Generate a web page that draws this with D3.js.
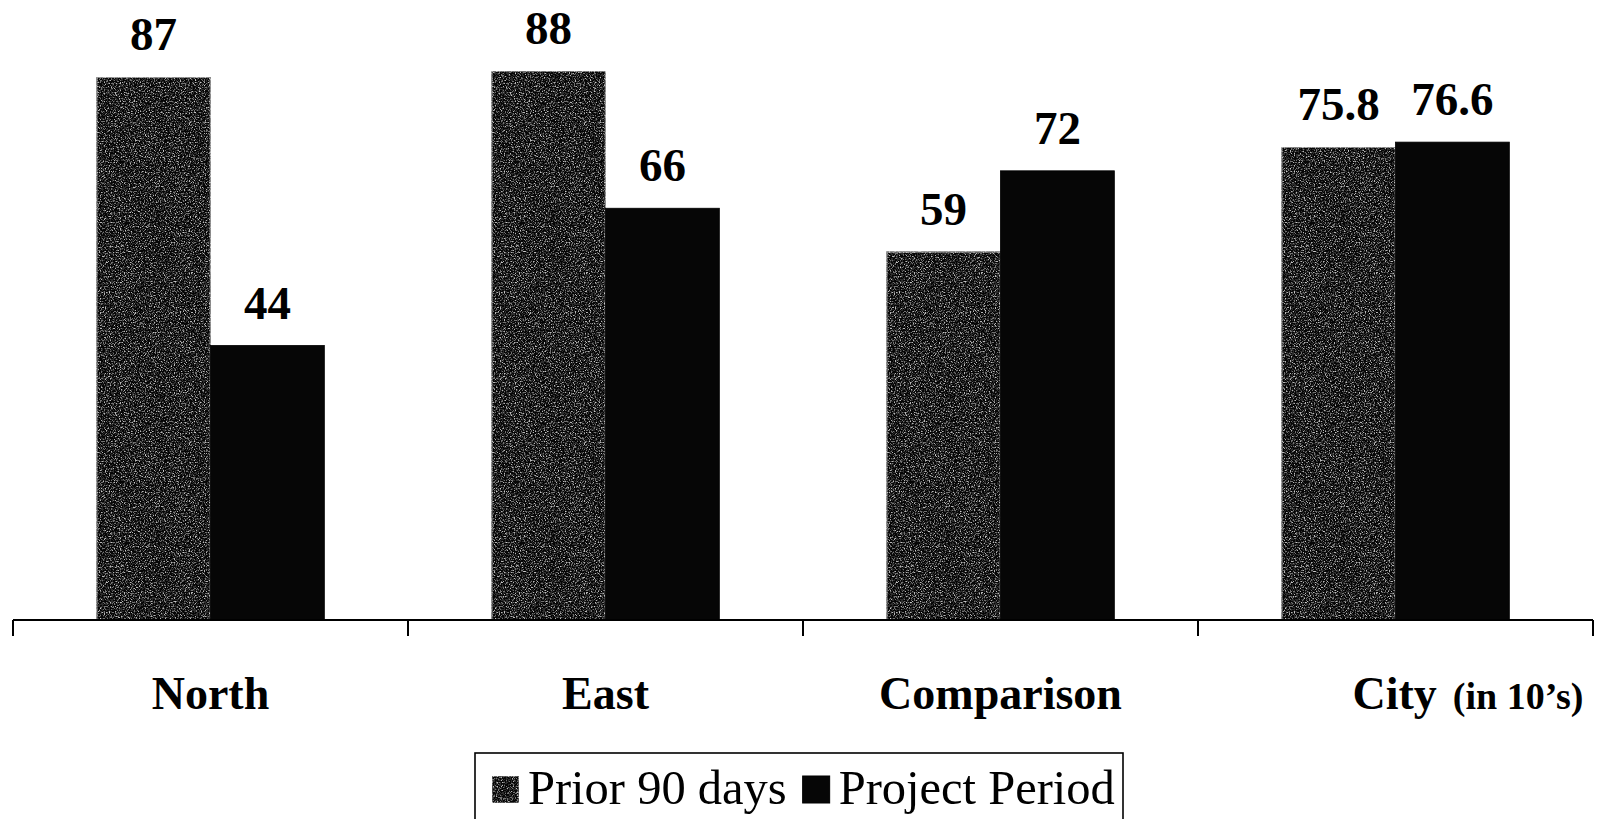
<!DOCTYPE html>
<html>
<head>
<meta charset="utf-8">
<script src="https://cdn.jsdelivr.net/npm/d3@7"></script>
<style>
  html, body { margin: 0; padding: 0; background: #fff; }
  svg { display: block; }
</style>
</head>
<body>
<svg id="chart" width="1603" height="819" font-family="'Liberation Serif', 'Times New Roman', Tinos, 'DejaVu Serif', serif"></svg>
<script>
// Categories and the two periods being compared
const categories = ["North", "East", "Comparison", "City"];
const seriesNames = ["Prior 90 days", "Project Period"];
const priorValues = [87, 88, 59, 75.8];
const projectValues = [44, 66, 72, 76.6];
const categoryNotes = { City: "(in 10\u2019s)" };

const svg = d3.select("#chart");
const baseY = 620;
const serif = "'Liberation Serif', 'Times New Roman', Tinos, 'DejaVu Serif', serif";

const x0 = d3.scaleBand().domain(categories).range([13, 1593]).paddingInner(0).paddingOuter(0);
const x1 = d3.scaleBand().domain(seriesNames).range([0, x0.bandwidth()]).paddingInner(0).paddingOuter(0.735);
const y = d3.scaleLinear().domain([0, 88]).range([baseY, 71]);

// Speckled texture for the prior-period bars
const defs = svg.append("defs");
const f = defs.append("filter").attr("id", "grain")
  .attr("x", 0).attr("y", 0).attr("width", 1).attr("height", 1)
  .attr("color-interpolation-filters", "sRGB");
f.append("feTurbulence").attr("type", "fractalNoise").attr("baseFrequency", 0.8)
  .attr("numOctaves", 2).attr("seed", 7).attr("result", "noise");
f.append("feColorMatrix").attr("in", "noise").attr("type", "matrix")
  .attr("values", "0 0 0 0 0.8  0 0 0 0 0.8  0 0 0 0 0.8  1 0 0 0 0").attr("result", "tinted");
const ct = f.append("feComponentTransfer").attr("in", "tinted").attr("result", "speck");
ct.append("feFuncA").attr("type", "discrete").attr("tableValues", "0 0 0 0 0 0.2 0.55 0.9 1 1");
f.append("feComposite").attr("in", "speck").attr("in2", "SourceGraphic").attr("operator", "in").attr("result", "clipped");
const fm = f.append("feMerge");
fm.append("feMergeNode").attr("in", "SourceGraphic");
fm.append("feMergeNode").attr("in", "clipped");

const rows = categories.map((c, i) => ({
  category: c,
  values: [
    { series: seriesNames[0], value: priorValues[i] },
    { series: seriesNames[1], value: projectValues[i] }
  ]
}));

const groups = svg.append("g").selectAll("g").data(rows).join("g")
  .attr("transform", d => `translate(${x0(d.category)},0)`);

groups.selectAll("rect").data(d => d.values).join("rect")
  .attr("x", d => x1(d.series))
  .attr("y", d => y(d.value))
  .attr("width", x1.bandwidth())
  .attr("height", d => baseY - y(d.value))
  .attr("fill", "#060606")
  .attr("stroke", d => d.series === seriesNames[0] ? "#8a8a8a" : "#000")
  .attr("stroke-width", d => d.series === seriesNames[0] ? 1.6 : 0.8)
  .attr("filter", d => d.series === seriesNames[0] ? "url(#grain)" : null);

// Value labels above each bar
groups.selectAll("text.val").data(d => d.values).join("text")
  .attr("class", "val")
  .attr("x", d => x1(d.series) + x1.bandwidth() / 2)
  .attr("y", d => y(d.value) - 27)
  .attr("text-anchor", "middle")
  .attr("font-family", serif)
  .attr("font-weight", "bold")
  .attr("font-size", 47)
  .text(d => d.value);

// Category axis with ticks at the band edges
const axisG = svg.append("g");
axisG.append("line")
  .attr("x1", x0.range()[0]).attr("x2", x0.range()[1])
  .attr("y1", baseY).attr("y2", baseY)
  .attr("stroke", "#000").attr("stroke-width", 2);
const edges = categories.map(c => x0(c)).concat([x0.range()[1]]);
axisG.selectAll("line.tick").data(edges).join("line")
  .attr("class", "tick")
  .attr("x1", d => d).attr("x2", d => d)
  .attr("y1", baseY).attr("y2", baseY + 16)
  .attr("stroke", "#000").attr("stroke-width", 2);

const catLabels = axisG.selectAll("text.cat").data(categories).join("text")
  .attr("class", "cat")
  .attr("y", 709)
  .attr("font-family", serif)
  .attr("font-weight", "bold")
  .attr("font-size", 46);
catLabels.each(function(c) {
  const t = d3.select(this);
  const cx = x0(c) + x0.bandwidth() / 2;
  if (categoryNotes[c]) {
    t.attr("x", cx - 43).attr("text-anchor", "start");
    t.append("tspan").text(c);
    t.append("tspan").attr("dx", 16).attr("font-size", 38).text(categoryNotes[c]);
  } else {
    t.attr("x", cx).attr("text-anchor", "middle").text(c);
  }
});

// Legend
const legend = svg.append("g");
legend.append("rect")
  .attr("x", 475).attr("y", 753).attr("width", 648).attr("height", 90)
  .attr("fill", "#fff").attr("stroke", "#000").attr("stroke-width", 1.6);
let lx = 492;
seriesNames.forEach((s, i) => {
  legend.append("rect")
    .attr("x", lx).attr("y", 776).attr("width", 27).attr("height", 27)
    .attr("fill", "#060606")
    .attr("stroke", i === 0 ? "#8a8a8a" : "#000").attr("stroke-width", 1)
    .attr("filter", i === 0 ? "url(#grain)" : null);
  const t = legend.append("text")
    .attr("x", lx + 36).attr("y", 804)
    .attr("font-family", serif)
    .attr("font-size", 48.5)
    .text(s);
  lx = lx + 36 + t.node().getComputedTextLength() + 16;
});
</script>
</body>
</html>
